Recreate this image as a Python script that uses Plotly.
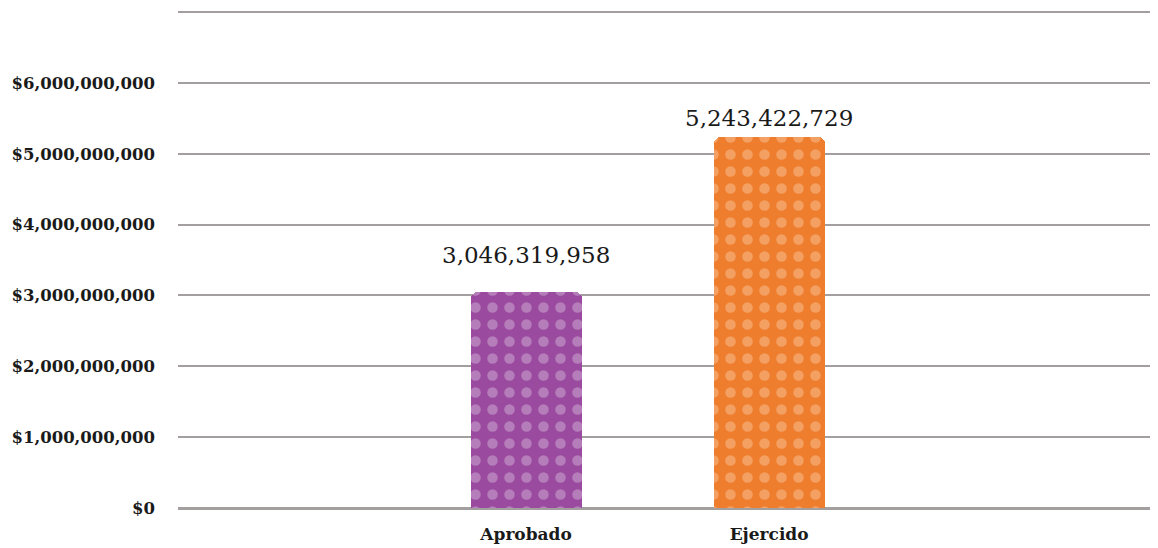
import plotly.graph_objects as go

categories = ["Aprobado", "Ejercido"]
values = [3046319958, 5243422729]
value_labels = ["3,046,319,958", "5,243,422,729"]
bar_colors = ["#9a4a9f", "#ee7d2e"]
pattern_colors = ["#b57db9", "#f4a062"]
tick_vals = [0, 1e9, 2e9, 3e9, 4e9, 5e9, 6e9, 7e9]
tick_text = ["$0", "$1,000,000,000", "$2,000,000,000", "$3,000,000,000",
             "$4,000,000,000", "$5,000,000,000", "$6,000,000,000", ""]

fig = go.Figure()
for c, v, col, pcol in zip(categories, values, bar_colors, pattern_colors):
    fig.add_trace(go.Bar(
        x=[c],
        y=[v],
        width=0.457,
        marker=dict(
            color=col,
            cornerradius=7,
            line=dict(width=0),
            pattern=dict(shape=".", fgcolor=pcol, bgcolor=col,
                         fgopacity=1, size=17, solidity=0.3),
        ),
        hoverinfo="skip",
    ))

label_shift = [22, 4]
for c, v, t, s in zip(categories, values, value_labels, label_shift):
    fig.add_annotation(x=c, y=v, text=t, showarrow=False, yanchor="bottom", yshift=s,
                       font=dict(family="DejaVu Serif", size=23, color="#1a1a1a"))

# the page body adds an 8px margin, so the figure is sized to fit the window
fig.update_layout(
    width=1150, height=540,
    margin=dict(l=170, r=0, t=2, b=40),
    plot_bgcolor="white", paper_bgcolor="white",
    showlegend=False,
    barmode="overlay",
    bargap=0,
)
fig.update_xaxes(
    type="category",
    categoryorder="array",
    categoryarray=categories,
    range=[-1.432, 2.6],
    showgrid=False,
    showline=False,
    zeroline=False,
    ticks="",
    ticklabelstandoff=14,
    tickfont=dict(family="DejaVu Serif", size=17, color="#1a1a1a", weight="bold"),
)
fig.update_yaxes(
    range=[0, 7.03e9],
    tickvals=tick_vals,
    ticktext=tick_text,
    showgrid=True,
    gridcolor="#a39f9f",
    gridwidth=2,
    zeroline=True,
    zerolinecolor="#a39f9f",
    zerolinewidth=3,
    showline=False,
    ticks="",
    ticklabelstandoff=22,
    tickfont=dict(family="DejaVu Serif", size=16.5, color="#1a1a1a", weight="bold"),
)

fig.write_html("out.html")
